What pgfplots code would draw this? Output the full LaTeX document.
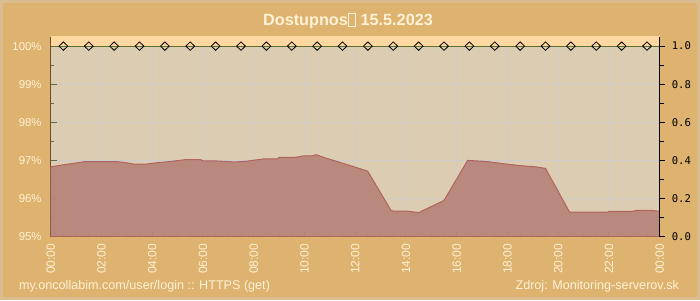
\documentclass[border=0pt]{standalone}
\usepackage{pgfplots}
\pgfplotsset{compat=1.18}
\usepackage{fontspec}
\setmainfont{Liberation Sans}
\setmonofont{DejaVu Sans Mono}
\definecolor{framec}{HTML}{D9BD90}
\definecolor{bgc}{HTML}{DEB26F}
\definecolor{plotbg}{HTML}{DCCDB2}
\definecolor{bandc}{HTML}{FED8A0}
\definecolor{areac}{HTML}{B8847A}
\definecolor{edgec}{HTML}{B0645E}
\definecolor{gridc}{HTML}{CFCBCB}
\definecolor{txtc}{HTML}{FFF2D6}
\definecolor{linec}{HTML}{5E6E2E}
\definecolor{leftax}{HTML}{6B4E2A}
\definecolor{botax}{HTML}{5F6B4A}
\newcommand\tofu{{\fboxsep=0pt\fboxrule=0.4pt\fbox{\rule{0pt}{0.72em}\hspace{0.42em}}}}
\begin{document}
\begin{tikzpicture}[x=0.5pt,y=0.5pt]
\useasboundingbox (0,0) rectangle (700,300);
\fill[framec] (0,0) rectangle (700,300);
\fill[bgc] (3,3) rectangle (697,297);
\node[font=\bfseries\fontsize{8.1}{9}\selectfont, text=txtc] at (348,279) {Dostupnos\tofu{} 15.5.2023};
\begin{axis}[
  at={(25.35pt,31.7pt)}, anchor=south west,
  scale only axis, width=304.5pt, height=99.8pt,
  xmin=0, xmax=24, ymin=95, ymax=100.24,
  axis background/.style={fill=plotbg},
  axis x line*=bottom, axis y line*=left,
  x axis line style={botax, line width=0.6pt, -},
  y axis line style={leftax, line width=0.6pt, -},
  xtick={0,2,...,24},
  xticklabels={00:00,02:00,04:00,06:00,08:00,10:00,12:00,14:00,16:00,18:00,20:00,22:00,00:00},
  minor x tick num=3,
  ytick={95,96,97,98,99,100},
  yticklabels={95\%,96\%,97\%,98\%,99\%,100\%},
  minor y tick num=1,
  tick align=inside,
  major tick length=3pt, minor tick length=1.8pt,
  every tick/.style={botax, line width=0.5pt},
  grid=major, major grid style={gridc, line width=0.5pt},
  tick label style={font=\fontsize{5.7}{6}\selectfont, text=txtc},
  xticklabel style={rotate=90, anchor=east, font=\fontsize{6}{6}\selectfont, text=txtc},
  yticklabel style={xshift=-1pt},
  clip=true,
]
\fill[bandc] (axis cs:0,100) rectangle (axis cs:24,100.3);
\addplot[fill=areac, fill opacity=0.93, draw=edgec, line width=0.5pt] coordinates {
(0,96.83) (0.55,96.89) (1.07,96.94) (1.35,96.97) (2.6,96.97) (2.98,96.94) (3.3,96.90) (3.7,96.90) (4.2,96.94) (4.7,96.97) (5.3,97.02) (5.9,97.02) (6.0,96.99) (6.4,96.99) (7.25,96.96) (7.75,96.98) (7.83,96.99) (8.4,97.04) (8.95,97.04) (9.0,97.08) (9.6,97.08) (10.0,97.12) (10.3,97.12) (10.46,97.15) (10.85,97.06) (11.25,96.98) (11.77,96.87) (12.49,96.72) (13.41,95.69) (13.5,95.67) (14.05,95.67) (14.5,95.63) (15.5,95.95) (16.43,97.0) (16.7,96.99) (17.2,96.97) (18,96.90) (18.55,96.86) (19.14,96.83) (19.5,96.79) (20.45,95.64) (21.95,95.64) (22.0,95.66) (22.9,95.66) (23.1,95.69) (23.7,95.69) (24,95.66)
} \closedcycle;
\addplot[linec, line width=0.6pt] coordinates {(0,100) (24,100)};
\addplot[only marks, mark=diamond, mark size=2.1pt, mark options={draw=black, fill=none, line width=0.4pt, xscale=1.4}] coordinates {
(0.5,100) (1.5,100) (2.5,100) (3.5,100) (4.5,100) (5.5,100) (6.5,100) (7.5,100) (8.5,100) (9.5,100) (10.5,100) (11.5,100) (12.5,100) (13.5,100) (14.5,100) (15.5,100) (16.5,100) (17.5,100) (18.5,100) (19.5,100) (20.5,100) (21.5,100) (22.5,100) (23.5,100)
};
\end{axis}
\begin{axis}[
  at={(25.35pt,31.7pt)}, anchor=south west,
  scale only axis, width=304.5pt, height=99.8pt,
  xmin=0, xmax=24, ymin=0, ymax=1.048,
  axis x line=none, axis y line*=right,
  y axis line style={black, line width=0.6pt, -},
  ytick={0,0.2,0.4,0.6,0.8,1.0},
  minor y tick num=1,
  tick align=outside,
  major tick length=2.5pt, minor tick length=2pt,
  every tick/.style={black, line width=0.5pt},
  /pgf/number format/assume math mode=true,
  yticklabel={\pgfmathprintnumber[fixed,fixed zerofill,precision=1]{\tick}},
  yticklabel style={font=\ttfamily\fontsize{5.3}{6}\selectfont, text=black, xshift=0pt},
]
\end{axis}
\node[anchor=west, font=\fontsize{6.3}{7}\selectfont, text=txtc] at (12,14) {my.oncollabim.com/user/login :: HTTPS (get)};
\node[anchor=east, font=\fontsize{6.3}{7}\selectfont, text=txtc] at (686,14) {Zdroj: Monitoring-serverov.sk};
\end{tikzpicture}
\end{document}
